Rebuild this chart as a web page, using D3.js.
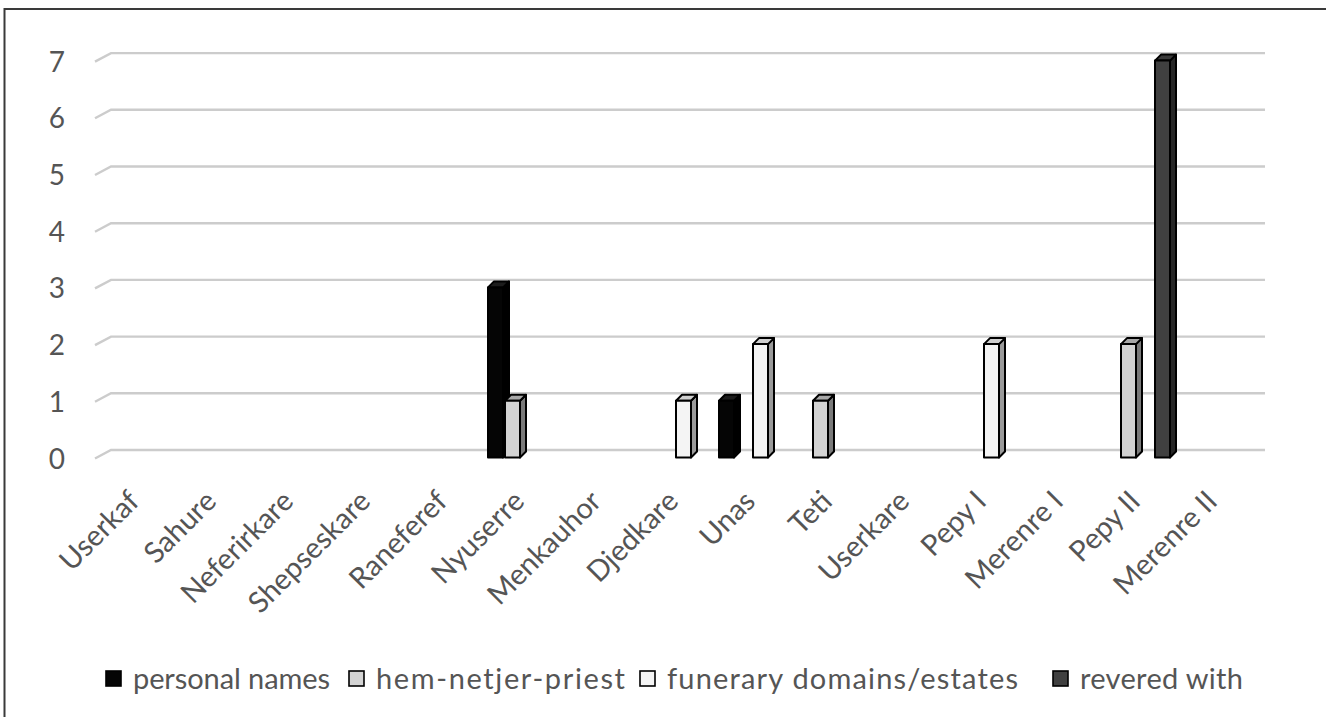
<!DOCTYPE html>
<html>
<head>
<meta charset="utf-8">
<script src="https://cdn.jsdelivr.net/npm/d3@7"></script>
<style>
  html, body { margin: 0; padding: 0; background: #fff; }
  svg { display: block; }
  text { font-family: Lato, "Open Sans", sans-serif; fill: #555555; }
</style>
</head>
<body>
<svg id="chart" width="1326" height="717"></svg>
<script>
// ---- data ----
const categories = ["Userkaf", "Sahure", "Neferirkare", "Shepseskare", "Raneferef", "Nyuserre",
  "Menkauhor", "Djedkare", "Unas", "Teti", "Userkare", "Pepy I", "Merenre I", "Pepy II", "Merenre II"];
const seriesNames = ["personal names", "hem-netjer-priest", "funerary domains/estates", "revered with"];
const personalNames = [0, 0, 0, 0, 0, 3, 0, 0, 1, 0, 0, 0, 0, 0, 0];
const hemNetjerPriest = [0, 0, 0, 0, 0, 1, 0, 0, 0, 1, 0, 0, 0, 2, 0];
const funeraryDomains = [0, 0, 0, 0, 0, 0, 0, 1, 2, 0, 0, 2, 0, 0, 0];
const reveredWith = [0, 0, 0, 0, 0, 0, 0, 0, 0, 0, 0, 0, 0, 7, 0];
const yTicks = [0, 1, 2, 3, 4, 5, 6, 7];

const seriesValues = [personalNames, hemNetjerPriest, funeraryDomains, reveredWith];
const faces = [
  { front: "#050505", top: "#1c1c1c", side: "#000000" },
  { front: "#d3d3d3", top: "#a8a8a8", side: "#7a7a7a" },
  { front: "#f4f4f4", top: "#cfcfcf", side: "#9a9a9a" },
  { front: "#404040", top: "#3a3a3a", side: "#262626" }
];

const svg = d3.select("#chart");

// border
svg.append("path").attr("d", "M4.5,717 L4.5,9 L1326,9")
  .attr("fill", "none").attr("stroke", "#3a3a3a").attr("stroke-width", 2);

// scales
const x = d3.scaleBand().domain(categories).range([101.5, 1256.5]).padding(0);
const xs = d3.scaleBand().domain(seriesNames).range([1.5, 69.5]).padding(0);
const y = d3.scaleLinear().domain([0, 7]).range([457.5, 60.6]);
const depthX = 6, depthY = 6;     // bar depth
const backShift = 7.5;            // back wall offset
const barW = 15;

// gridlines (floor edge diagonal + back wall line)
const grid = svg.append("g");
yTicks.forEach(v => {
  const yf = y(v), yb = y(v) - backShift;
  grid.append("path")
    .attr("d", `M95,${yf + 1} L111,${yb} L1265,${yb}`)
    .attr("fill", "none").attr("stroke", "#cccccc").attr("stroke-width", 2.4);
});

// y-axis labels
svg.append("g").selectAll("text").data(yTicks).join("text")
  .attr("x", 65).attr("y", d => y(d) + 4)
  .attr("text-anchor", "end").attr("dominant-baseline", "middle")
  .style("font-size", "28px").text(d => d);

// bars
const bars = svg.append("g");
categories.forEach((c, i) => {
  seriesNames.forEach((s, k) => {
    const v = seriesValues[k][i];
    if (!v) return;
    const x0 = x(c) + xs(s), x1 = x0 + barW;
    const yt = y(v), yb = y(0);
    const f = faces[k];
    const g = bars.append("g").attr("stroke", "#000").attr("stroke-width", 2).attr("stroke-linejoin", "round");
    g.append("path")
      .attr("d", `M${x1},${yt} L${x1 + depthX},${yt - depthY} L${x1 + depthX},${yb - depthY} L${x1},${yb} Z`)
      .attr("fill", f.side);
    g.append("path")
      .attr("d", `M${x0},${yt} L${x0 + depthX},${yt - depthY} L${x1 + depthX},${yt - depthY} L${x1},${yt} Z`)
      .attr("fill", f.top);
    g.append("rect").attr("x", x0).attr("y", yt).attr("width", barW).attr("height", yb - yt)
      .attr("fill", f.front);
  });
});

// category labels
svg.append("g").selectAll("text").data(categories).join("text")
  .attr("transform", d => `translate(${x(d) + x.bandwidth() / 2 + 1},${503}) rotate(-45)`)
  .attr("text-anchor", "end")
  .style("font-size", "29px").text(d => d);

// legend
const legendX = [106, 349, 640, 1053];
const legendW = [197, 249, 351, 163];
const legend = svg.append("g");
seriesNames.forEach((s, k) => {
  const lx = legendX[k];
  legend.append("rect").attr("x", lx).attr("y", 671).attr("width", 15).attr("height", 15)
    .attr("fill", faces[k].front).attr("stroke", "#000").attr("stroke-width", 1.6);
  legend.append("text").attr("x", lx + 27).attr("y", 689)
    .attr("textLength", legendW[k]).attr("lengthAdjust", "spacing")
    .style("font-size", "29px").text(s);
});
</script>
</body>
</html>
